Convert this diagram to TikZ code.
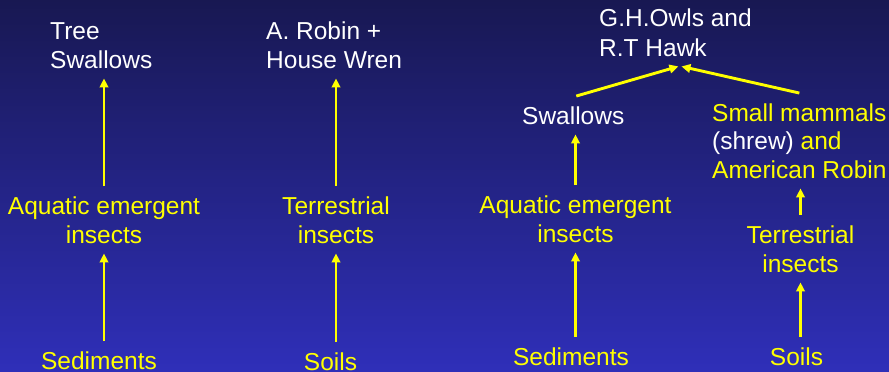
\documentclass[tikz,border=0pt]{standalone}
\usepackage{fontspec}
\setmainfont{Liberation Sans}
\usetikzlibrary{arrows.meta}
\definecolor{bgtop}{RGB}{24,24,82}
\definecolor{bgbot}{RGB}{47,47,185}
\definecolor{lblyellow}{RGB}{255,255,0}
\begin{document}
\begin{tikzpicture}[x=1pt,y=-1pt,
	lbl/.style={text=lblyellow,inner xsep=0pt,inner ysep=10pt,font=\fontsize{24.5}{29}\selectfont},
	toplbl/.style={lbl,text=white,anchor=base west,align=left},
	flow/.style={draw=lblyellow,line width=2.9pt,-{Triangle[width=8.5pt,length=9pt]}}]
				\useasboundingbox (0,0) rectangle (889,372);
				\shade[top color=bgtop,bottom color=bgbot] (0,0) rectangle (889,372);
				\node[toplbl] (ts) at (50,68) {Tree\\Swallows};
				\node[toplbl] (ar) at (266,68) {A. Robin +\\House Wren};
				\node[toplbl] (gh) at (599,56) {G.H.Owls and\\R.T Hawk};
				\node[toplbl] (sw) at (522,124) {Swallows};
				\node[lbl,anchor=base west,align=left,font=\fontsize{24.5}{28.5}\selectfont] (sm) at (712,178) {Small mammals\\\textcolor{white}{(shrew)} and\\American Robin};
				\node[lbl,anchor=base,align=center] (ai1) at (104,243) {Aquatic emergent\\insects};
				\node[lbl,anchor=base,align=center] (ti1) at (336,243) {Terrestrial\\insects};
				\node[lbl,anchor=base,align=center] (ai2) at (575.5,242) {Aquatic emergent\\insects};
				\node[lbl,anchor=base,align=center] (ti2) at (800.5,272) {Terrestrial\\insects};
				\node[lbl,anchor=base] (se1) at (99,369) {Sediments};
				\node[lbl,anchor=base] (so1) at (330.5,370) {Soils};
				\node[lbl,anchor=base] (se2) at (571,365) {Sediments};
				\node[lbl,anchor=base] (so2) at (796.5,365) {Soils};
				\draw[flow] (ai1.north) -- (ai1.north |- ts.south);
				\draw[flow] (ti1.north) -- (ti1.north |- ar.south);
				\draw[flow] (ai1.south |- se1.north) -- (ai1.south);
				\draw[flow] (ti1.south |- so1.north) -- (ti1.south);
				\draw[flow] (ai2.north) -- (ai2.north |- sw.south);
				\draw[flow] (ai2.south |- se2.north) -- (ai2.south);
				\draw[flow] (ti2.north) -- (ti2.north |- sm.south);
				\draw[flow] (ti2.south |- so2.north) -- (ti2.south);
				\draw[flow] ([xshift=3pt]sw.north) -- ([xshift=3pt]gh.south);
				\draw[flow] (sm.north) -- ([xshift=6pt]gh.south);
\end{tikzpicture}
\end{document}
